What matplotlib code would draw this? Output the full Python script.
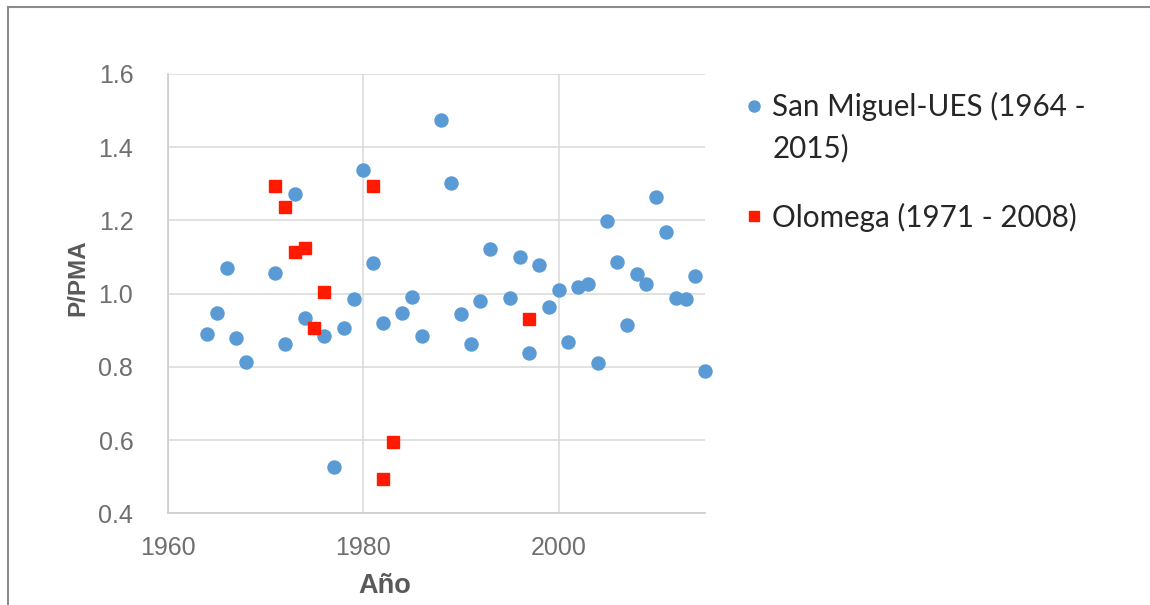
import matplotlib
matplotlib.use("Agg")
from matplotlib import pyplot as plt
from matplotlib.lines import Line2D

# San Miguel-UES (1964 - 2015)
sm_years = [1964, 1965, 1966, 1967, 1968, 1971, 1972, 1973, 1974, 1976,
            1977, 1978, 1979, 1980, 1981, 1982, 1984, 1985, 1986, 1988,
            1989, 1990, 1991, 1992, 1993, 1995, 1996, 1997, 1998, 1999,
            2000, 2001, 2002, 2003, 2004, 2005, 2006, 2007, 2008, 2009,
            2010, 2011, 2012, 2013, 2014, 2015]
sm_vals = [0.889, 0.946, 1.069, 0.880, 0.814, 1.057, 0.863, 1.272, 0.933, 0.884,
           0.527, 0.905, 0.985, 1.338, 1.083, 0.919, 0.946, 0.992, 0.884, 1.475,
           1.302, 0.945, 0.863, 0.980, 1.121, 0.988, 1.099, 0.837, 1.078, 0.963,
           1.010, 0.867, 1.017, 1.027, 0.811, 1.199, 1.087, 0.915, 1.053, 1.026,
           1.263, 1.169, 0.987, 0.985, 1.048, 0.790]

# Olomega (1971 - 2008)
ol_years = [1971, 1972, 1973, 1974, 1975, 1976, 1981, 1982, 1983, 1997]
ol_vals = [1.294, 1.238, 1.113, 1.126, 0.905, 1.005, 1.294, 0.494, 0.596, 0.930]

# first legend label is wrapped over two lines in the original
sm_label = ["San Miguel-UES (1964 -", "2015)"]
ol_label = "Olomega (1971 - 2008)"
x_ticks = [1960, 1980, 2000]
y_ticks = [0.4, 0.6, 0.8, 1.0, 1.2, 1.4, 1.6]

BLUE = "#5B9BD5"
RED = "#FF1A00"
GRID = "#D9D9D9"
TICK = "#6F6F6F"
TITLE = "#595959"
LEGTXT = "#262626"
LEGSIZE = 21.3


def main():
    fig = plt.figure(figsize=(11.5, 6.05), dpi=100)
    ax = fig.add_axes([0.1461, 0.1516, 0.467, 0.7261])

    ax.plot(sm_years, sm_vals, linestyle="none", marker="o", ms=9.4,
            color=BLUE, label=sm_label[0], clip_on=False, zorder=3)
    ax.plot(ol_years, ol_vals, linestyle="none", marker="s", ms=8.6,
            color=RED, label=ol_label, clip_on=False, zorder=3)

    ax.set_xlim(1960, 2015)
    ax.set_ylim(0.4, 1.6)
    ax.set_xticks(x_ticks)
    ax.set_yticks(y_ticks)
    ax.set_yticklabels(["%.1f" % v for v in y_ticks])

    ax.grid(True, color=GRID, linewidth=1.1)
    ax.set_axisbelow(True)
    for side in ["top", "right"]:
        ax.spines[side].set_visible(False)
    for side in ["left", "bottom"]:
        ax.spines[side].set_color("#CFCFCF")
        ax.spines[side].set_linewidth(1.3)

    ax.tick_params(length=0, labelsize=18, labelcolor=TICK)
    ax.tick_params(axis="y", pad=25)
    ax.tick_params(axis="x", pad=16)
    for lab in ax.get_xticklabels() + ax.get_yticklabels():
        lab.set_fontfamily("Liberation Sans")

    ax.set_ylabel("P/PMA", fontsize=17.5, fontweight="bold", color=TITLE,
                  family="Liberation Sans")
    ax.yaxis.set_label_coords(-0.146, 0.536)
    ax.set_xlabel("Año", fontsize=19.5, fontweight="bold", color=TITLE,
                  family="Liberation Sans")
    ax.xaxis.set_label_coords(0.404, -0.137)

    leg = ax.legend(loc="upper left", bbox_to_anchor=(0.6355, 0.872),
                    bbox_transform=fig.transFigure, frameon=False,
                    prop={"family": "Lato", "size": LEGSIZE},
                    markerscale=0.85, handlelength=0.6, handletextpad=0.3,
                    labelspacing=2.75, borderpad=0)
    for t in leg.get_texts():
        t.set_color(LEGTXT)

    # second line of the first legend entry, placed under its first line
    fig.canvas.draw()
    bb = leg.get_texts()[0].get_window_extent()
    fx, fy = fig.transFigure.inverted().transform((bb.x0, bb.y0 - 41))
    fig.text(fx, fy, sm_label[1], fontsize=LEGSIZE, family="Lato",
             color=LEGTXT, ha="left", va="bottom")

    # outer frame (top and left edges only are visible)
    fig.add_artist(Line2D([0.007, 1.0], [0.988, 0.988], transform=fig.transFigure,
                          color="#8C8C8C", linewidth=1.5))
    fig.add_artist(Line2D([0.007, 0.007], [0.0, 0.988], transform=fig.transFigure,
                          color="#8C8C8C", linewidth=1.5))

    fig.savefig("out.png", dpi=100, facecolor="white")


if __name__ == "__main__":
    main()
